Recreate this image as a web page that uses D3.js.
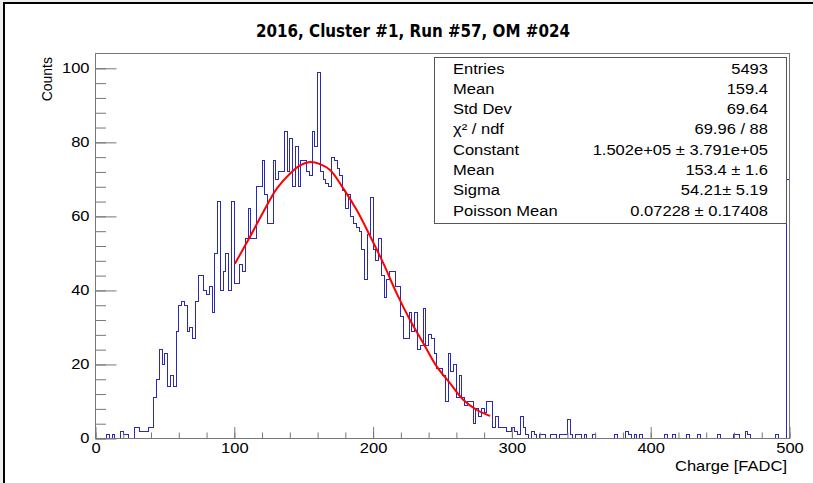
<!DOCTYPE html>
<html>
<head>
<meta charset="utf-8">
<script src="https://cdn.jsdelivr.net/npm/d3@7"></script>
<style>
    body { margin: 0; background: #fff; }
    text { font-family: "Liberation Sans", Arial, sans-serif; fill: #000; }
</style>
</head>
<body>
<svg id="canvas"></svg>
<script>
var w = 813
var h = 483

// ########## Data ##########

var title = "2016, Cluster #1, Run #57, OM #024";
var xTitle = "Charge [FADC]";
var yTitle = "Counts";

var binWidth = 2;
var counts = [
    0, 0, 0, 0, 1, 0, 1, 0, 0, 2,
    1, 1, 0, 0, 3, 3, 2, 2, 2, 3,
    3, 11, 16, 24, 20, 23, 14, 17, 14, 29,
    36, 37, 36, 29, 30, 27, 37, 44, 44, 40,
    39, 41, 34, 50, 64, 40, 45, 50, 40, 64,
    42, 42, 47, 45, 54, 62, 54, 54, 68, 68,
    75, 66, 58, 58, 75, 70, 72, 72, 83, 72,
    81, 68, 79, 68, 75, 75, 72, 71, 83, 79,
    99, 72, 70, 69, 68, 76, 75, 73, 71, 67,
    62, 66, 60, 58, 57, 56, 51, 43, 55, 65,
    51, 48, 54, 44, 38, 43, 45, 45, 41, 41,
    33, 27, 27, 34, 29, 34, 24, 25, 35, 25,
    28, 27, 23, 19, 19, 17, 10, 23, 18, 20,
    11, 17, 11, 9, 10, 10, 4, 8, 6, 8,
    7, 10, 10, 3, 6, 3, 3, 3, 2, 2,
    3, 2, 1, 6, 3, 1, 0, 2, 1, 0,
    1, 1, 0, 0, 1, 1, 0, 1, 1, 1,
    5, 1, 0, 1, 1, 0, 1, 0, 0, 1,
    0, 0, 0, 0, 0, 0, 0, 1, 0, 0,
    0, 2, 1, 0, 1, 0, 1, 0, 0, 0,
    0, 0, 0, 0, 0, 1, 0, 0, 1, 0,
    0, 0, 0, 1, 0, 0, 0, 1, 0, 0,
    0, 0, 0, 0, 1, 0, 0, 0, 0, 0,
    1, 1, 0, 0, 2, 1, 0, 0, 0, 0,
    0, 0, 0, 0, 0, 1, 0, 0, 0, 70
];

// fit curve
var fitX = [100.4, 111.3, 120.9, 130.6, 140.2, 147.4, 154.6, 161.8, 169.0, 178.6, 188.2,
    197.8, 207.4, 217.0, 226.6, 236.2, 245.9, 255.5, 265.1, 274.7, 284.3];
var fitY = [47.2, 54.5, 61.2, 67.5, 71.6, 73.8, 74.7, 74.1, 72.5, 67.5, 61.7,
    54.7, 47.3, 39.2, 32.0, 25.7, 19.4, 14.9, 10.4, 7.7, 6.1];

var xTicks = [0, 100, 200, 300, 400, 500];
var xMinor = d3.range(0, 501, 20);
var yTicks = [0, 20, 40, 60, 80, 100];
var yMinor = d3.range(0, 104, 4);

var statLabels = ["Entries", "Mean", "Std Dev", "\u03c7\u00b2 / ndf", "Constant", "Mean", "Sigma", "Poisson Mean"];
var statValues = ["5493", "159.4", "69.64", "69.96 / 88", "1.502e+05 \u00b1 3.791e+05", "153.4 \u00b1 1.6", "54.21\u00b1 5.19", "0.07228 \u00b1 0.17408"];

// ########## SVG ##########

var svg = d3.select("#canvas")
    .attr("width", w)
    .attr("height", h);

svg.append("rect")
    .attr("width", w)
    .attr("height", h)
    .attr("fill", "#eeeeee");

svg.append("rect")
    .attr("x", 4)
    .attr("y", 3)
    .attr("width", w + 20)
    .attr("height", h + 20)
    .attr("fill", "#fff")
    .attr("stroke", "#000")
    .attr("stroke-width", 2);

var plotL = 95.5, plotR = 789.5, plotT = 53.5, plotB = 438.5;

var x = d3.scaleLinear().domain([0, 500]).range([plotL, plotR]);
var y = d3.scaleLinear().domain([0, 104]).range([plotB, plotT]);

// picture was stretched sideways
var sx = 1.18;
function stretch(sel) {
    sel.each(function () {
        var len = this.getComputedTextLength();
        d3.select(this).attr("textLength", len * sx).attr("lengthAdjust", "spacingAndGlyphs");
    });
}

// ########## Histogram ##########

var pts = [[0, 0]];
counts.forEach(function (c, i) { pts.push([i * binWidth, c]); });
pts.push([500, counts[counts.length - 1]]);
pts.push([500, 0]);

var step = d3.line()
    .x(function (d) { return x(d[0]); })
    .y(function (d) { return y(d[1]); })
    .curve(d3.curveStepAfter);

svg.append("path")
    .attr("d", step(pts))
    .attr("fill", "none")
    .attr("stroke", "#2a2ab4")
    .attr("stroke-width", 1)
    .attr("shape-rendering", "crispEdges");

// ########## Fit ##########

var fit = d3.line()
    .x(function (d, i) { return x(fitX[i]); })
    .y(function (d) { return y(d); })
    .curve(d3.curveCatmullRom);

svg.append("path")
    .attr("d", fit(fitY))
    .attr("fill", "none")
    .attr("stroke", "#ff0000")
    .attr("stroke-width", 2);

// ########## Axes ##########

var axisColor = "#777";

svg.append("rect")
    .attr("x", plotL)
    .attr("y", plotT)
    .attr("width", plotR - plotL)
    .attr("height", plotB - plotT)
    .attr("fill", "none")
    .attr("stroke", axisColor)
    .attr("stroke-width", 1);

var yMinorAxis = svg.append("g")
    .attr("transform", "translate(" + plotL + ",0)")
    .call(d3.axisLeft(y).tickValues(yMinor).tickSize(-10.5).tickFormat(""));

var yAxis = svg.append("g")
    .attr("transform", "translate(" + plotL + ",0)")
    .call(d3.axisLeft(y).tickValues(yTicks).tickSize(-21).tickPadding(6));

var xMinorAxis = svg.append("g")
    .attr("transform", "translate(0," + plotB + ")")
    .call(d3.axisBottom(x).tickValues(xMinor).tickSize(-6).tickFormat(""));

var xAxis = svg.append("g")
    .attr("transform", "translate(0," + plotB + ")")
    .call(d3.axisBottom(x).tickValues(xTicks).tickSize(-11.5).tickPadding(5));

[yMinorAxis, yAxis, xMinorAxis, xAxis].forEach(function (g) {
    g.select(".domain").remove();
    g.selectAll("line").attr("stroke", axisColor);
    g.selectAll("text")
        .style("font-family", "'Liberation Sans', Arial, sans-serif")
        .style("font-size", "14px")
        .attr("fill", "#000");
});
stretch(yAxis.selectAll("text"));
stretch(xAxis.selectAll("text"));

// ########## Titles ##########

svg.append("text")
    .attr("x", 413)
    .attr("y", 37)
    .attr("text-anchor", "middle")
    .style("font-family", "'Liberation Sans Narrow', 'DejaVu Sans Condensed', sans-serif")
    .style("font-weight", "bold")
    .style("font-size", "18px")
    .attr("textLength", 314)
    .attr("lengthAdjust", "spacingAndGlyphs")
    .text(title);

svg.append("text")
    .attr("transform", "translate(52,57) rotate(-90)")
    .attr("text-anchor", "end")
    .style("font-size", "14px")
    .text(yTitle);

var xt = svg.append("text")
    .attr("x", 787)
    .attr("y", 471)
    .attr("text-anchor", "end")
    .style("font-size", "14px")
    .text(xTitle);
stretch(xt);

// ########## Stats box ##########

svg.append("rect")
    .attr("x", 434.5)
    .attr("y", 57.5)
    .attr("width", 352)
    .attr("height", 166)
    .attr("fill", "#fff")
    .attr("stroke", "#555")
    .attr("stroke-width", 1);

var rowY = d3.scaleLinear().domain([0, 7]).range([73.5, 215.5]);

var lab = svg.selectAll(".stat-label")
    .data(statLabels).enter()
    .append("text")
    .attr("class", "stat-label")
    .attr("x", 453)
    .attr("y", function (d, i) { return rowY(i); })
    .style("font-size", "14px")
    .text(function (d) { return d; });
stretch(lab);

var val = svg.selectAll(".stat-value")
    .data(statValues).enter()
    .append("text")
    .attr("class", "stat-value")
    .attr("x", 768)
    .attr("y", function (d, i) { return rowY(i); })
    .attr("text-anchor", "end")
    .style("font-size", "14px")
    .text(function (d) { return d; });
stretch(val);
</script>
</body>
</html>
